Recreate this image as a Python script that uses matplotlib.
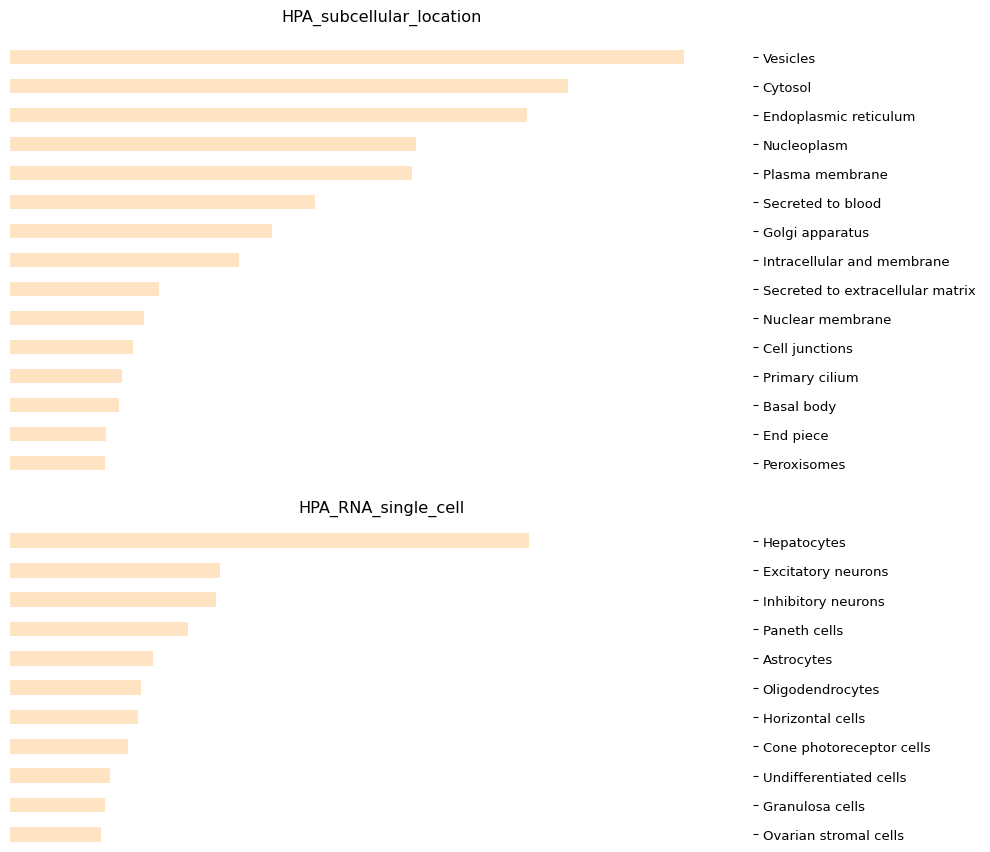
import matplotlib
matplotlib.use('Agg')
import matplotlib.pyplot as plt

# dati (lunghezza relativa delle barre)
loc_labels = ['Vesicles', 'Cytosol', 'Endoplasmic reticulum', 'Nucleoplasm',
              'Plasma membrane', 'Secreted to blood', 'Golgi apparatus',
              'Intracellular and membrane', 'Secreted to extracellular matrix',
              'Nuclear membrane', 'Cell junctions', 'Primary cilium',
              'Basal body', 'End piece', 'Peroxisomes']
loc_values = [674, 558, 517, 406, 402, 305, 262, 229, 149, 134, 123, 112, 109, 96, 95]

cell_labels = ['Hepatocytes', 'Excitatory neurons', 'Inhibitory neurons',
               'Paneth cells', 'Astrocytes', 'Oligodendrocytes',
               'Horizontal cells', 'Cone photoreceptor cells',
               'Undifferentiated cells', 'Granulosa cells', 'Ovarian stromal cells']
cell_values = [519, 210, 206, 178, 143, 131, 128, 118, 100, 95, 91]

x_max = 743
bar_color = 'bisque'

fig = plt.figure(figsize=(9.9, 8.53), dpi=100)
ax1 = fig.add_axes([0.0101, 0.4305, 0.7505, 0.5355])
ax2 = fig.add_axes([0.0101, 0.0035, 0.7505, 0.3871])


def draw(ax, labels, values, title, ylim):
    pos = list(range(len(labels)))
    ax.barh(pos, values, height=0.5, color=bar_color)
    ax.set_yticks(pos)
    ax.set_yticklabels(labels, fontsize=9.5)
    ax.yaxis.tick_right()
    ax.set_ylim(*ylim)
    ax.set_xlim(0, x_max)
    ax.set_xticks([])
    for s in ax.spines.values():
        s.set_visible(False)
    ax.set_title(title, fontsize=11.6, pad=5)


draw(ax1, loc_labels, loc_values, 'HPA_subcellular_location', (14.75, -1.0))
draw(ax2, cell_labels, cell_values, 'HPA_RNA_single_cell', (10.5, -0.75))

fig.savefig('out.png', dpi=100)
